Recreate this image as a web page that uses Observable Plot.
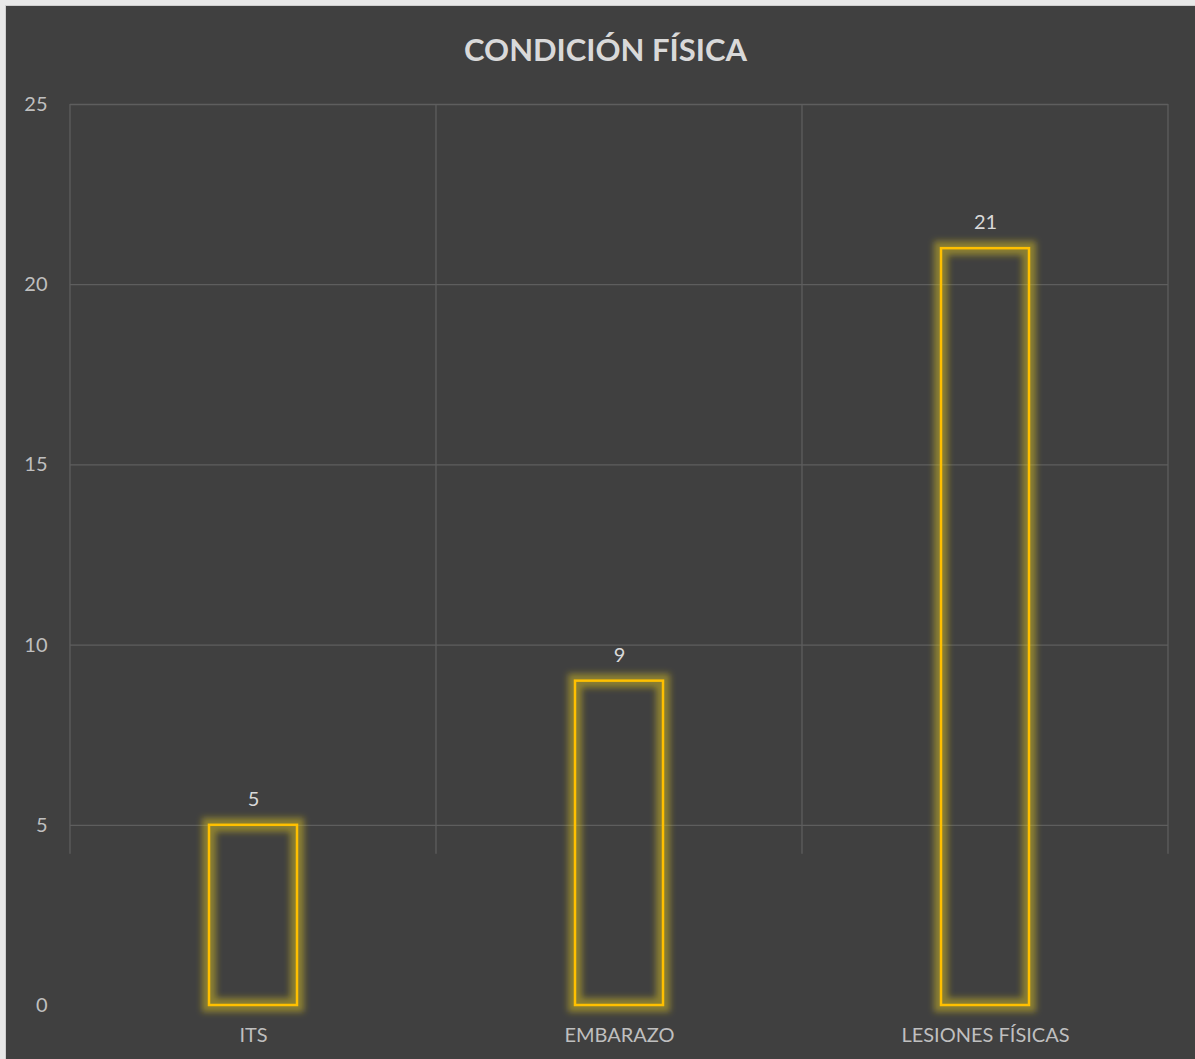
<!DOCTYPE html>
<html>
<head>
<meta charset="utf-8">
<script src="https://cdn.jsdelivr.net/npm/d3@7"></script>
<script src="https://cdn.jsdelivr.net/npm/@observablehq/plot@0.6"></script>
<style>
  html, body { margin: 0; padding: 0; background: #ffffff; }
  #wrap { position: absolute; left: 0; top: 0; width: 1195px; height: 1059px; background: #e8e8e8; }
  #chart { position: absolute; left: 5px; top: 5px; width: 1190px; height: 1054px; background: #404040; border-left: 1px solid #cfcfcf; border-top: 1px solid #cfcfcf; box-sizing: border-box; }
  #title { height: 86px; line-height: 86px; text-align: center; font-family: Lato, "Open Sans", sans-serif; font-weight: bold; font-size: 31px; color: #d9d9d9; padding-left: 10px; }
  svg { display: block; }
</style>
</head>
<body>
<div id="wrap"><div id="chart"><div id="title">CONDICIÓN FÍSICA</div></div></div>
<script>
const categories = ["ITS", "EMBARAZO", "LESIONES FÍSICAS"];
const values = [5, 9, 21];
const yTicks = [0, 5, 10, 15, 20, 25];
const gridTicks = [5, 10, 15, 20, 25];

const data = categories.map((c, i) => ({category: c, value: values[i]}));
const font = "Lato, 'Open Sans', sans-serif";

const plot = Plot.plot({
  width: 1189,
  height: 967,
  marginTop: 12,
  marginBottom: 54,
  marginLeft: 64,
  marginRight: 27,
  style: {background: "transparent", color: "#bfbfbf", fontFamily: font, fontSize: "20px"},
  x: {domain: categories, paddingInner: 0.76, paddingOuter: 0.38, label: null},
  y: {domain: [0, 25], label: null},
  marks: [
    Plot.ruleY(gridTicks, {stroke: "#5e5e5e", strokeWidth: 1.3}),
    Plot.axisY(yTicks, {tickSize: 0, tickPadding: 23, fontSize: 20, fill: "#bfbfbf", label: null}),
    Plot.axisX({tickSize: 0, tickPadding: 22, fontSize: 20, fill: "#bfbfbf", label: null}),
    Plot.barY(data, {x: "category", y: "value", fill: "none", stroke: "#D8C020", strokeWidth: 14, strokeOpacity: 0.5, className: "glow"}),
    Plot.barY(data, {x: "category", y: "value", fill: "none", stroke: "#FFC000", strokeWidth: 2.5}),
    Plot.text(data, {x: "category", y: "value", text: d => String(d.value), dy: -26, fill: "#d9d9d9", fontSize: 20})
  ]
});

document.getElementById("chart").appendChild(plot);

// vertical category separators derived from the band scale
const svg = d3.select(plot);
const xs = plot.scale("x");
const ys = plot.scale("y");
const centers = categories.map(c => xs.apply(c) + xs.bandwidth / 2);
const edges = centers.map(c => c - xs.step / 2).concat([centers[centers.length - 1] + xs.step / 2]);
const yTop = ys.apply(25), yBot = ys.apply(4.2);
svg.insert("g", ":first-child")
  .selectAll("line").data(edges).join("line")
  .attr("x1", d => d).attr("x2", d => d)
  .attr("y1", yTop).attr("y2", yBot)
  .attr("stroke", "#5e5e5e").attr("stroke-width", 1.3);

// glow blur filter
const defs = svg.insert("defs", ":first-child");
defs.append("filter").attr("id", "blur").attr("x", "-30%").attr("y", "-30%").attr("width", "160%").attr("height", "160%")
  .append("feGaussianBlur").attr("stdDeviation", 3);
svg.selectAll(".glow rect, g.glow rect").attr("filter", "url(#blur)");
</script>
</body>
</html>
